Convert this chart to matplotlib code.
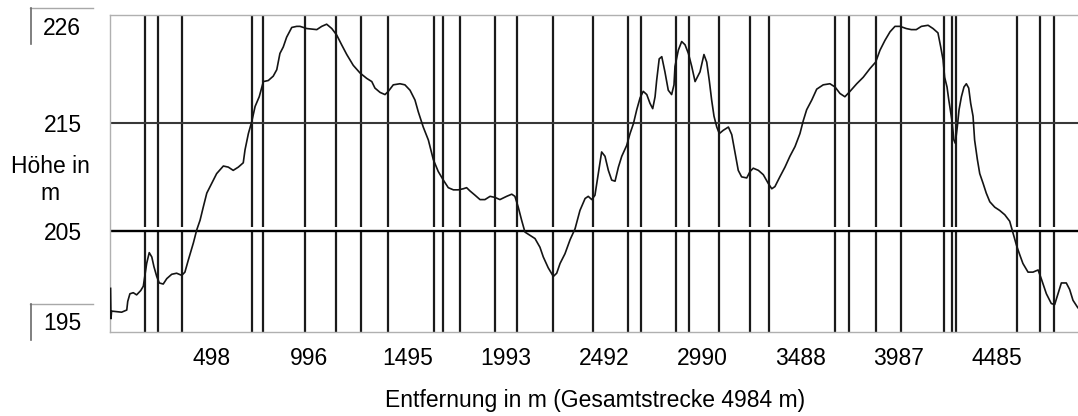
import matplotlib
matplotlib.use("Agg")
import matplotlib.pyplot as plt
import matplotlib.transforms as mtransforms
from matplotlib.lines import Line2D

plt.rcParams["font.family"] = ["Liberation Sans", "DejaVu Sans"]

# route profile: distance along track (m) and height (m)
TOTAL_M = 4984
ELEV_MIN, ELEV_MAX = 195, 226
GRID_Y = [205, 215]
XTICKS = [498, 996, 1495, 1993, 2492, 2990, 3488, 3987, 4485]

# waypoint markers (m)
MARKERS = [178, 242, 364, 719, 775, 989, 1147, 1272, 1412, 1645, 1691, 1776,
           1953, 2066, 2249, 2452, 2626, 2692, 2870, 2937, 3091, 3247, 3345,
           3678, 3750, 3884, 4014, 4231, 4271, 4292, 4603, 4719, 4787]

DIST = [3, 5, 8, 59, 85, 90, 101, 118, 135, 156, 169, 174, 186, 199, 212, 223,
        237, 250, 270, 288, 313, 338, 364, 380, 397, 423, 440, 457, 473, 491,
        516, 541, 575, 600, 625, 651, 676, 685, 702, 719, 736, 757, 778, 803,
        828, 846, 862, 879, 896, 922, 947, 964,
        998, 1049, 1074, 1099, 1125, 1150, 1175, 1201, 1234, 1268, 1302, 1328,
        1344, 1370, 1395, 1412, 1437, 1471, 1496, 1522, 1547, 1564, 1589, 1615,
        1640, 1665, 1691, 1716, 1742, 1767, 1792, 1809, 1826, 1852, 1877, 1902,
        1928, 1953, 1978,
        2012, 2038, 2054, 2071, 2088, 2105, 2131, 2156, 2181, 2198, 2223, 2249,
        2266, 2283, 2308, 2334, 2359, 2384, 2410, 2426, 2444, 2460, 2477, 2494,
        2511, 2528, 2545, 2562, 2579, 2596, 2621, 2638, 2655, 2672, 2689, 2705,
        2723, 2739, 2753, 2765, 2773, 2786, 2799, 2815, 2832, 2849, 2861, 2866,
        2883, 2900, 2917, 2934, 2951, 2968,
        2993, 3013, 3027, 3040, 3052, 3064, 3078, 3091, 3111, 3137, 3154, 3171,
        3187, 3204, 3230, 3247, 3263, 3289, 3314, 3339, 3357, 3373, 3398, 3424,
        3449, 3475, 3500, 3517, 3534, 3560, 3585, 3618, 3652, 3678, 3703, 3728,
        3754, 3788, 3821, 3855, 3884, 3906, 3931, 3957, 3982, 4008,
        4039, 4065, 4090, 4116, 4150, 4175, 4200, 4214, 4226, 4234, 4246, 4255,
        4265, 4271, 4281, 4288, 4298, 4307, 4319, 4332, 4344, 4356, 4366, 4378,
        4386, 4400, 4412, 4429, 4445, 4463, 4488, 4513, 4539, 4564, 4581, 4598,
        4615, 4631, 4657, 4682, 4708, 4724, 4750, 4775, 4792, 4809, 4826, 4851,
        4868, 4885, 4910, 4984]

ELEV = [199.7, 196.9, 197.6, 197.5, 197.7, 198.5, 199.2, 199.3, 199.1, 199.5,
        199.9, 200.5, 202.0, 203.0, 202.6, 201.7, 200.8, 200.2, 200.1, 200.6,
        201.0, 201.1, 200.9, 201.2, 202.3, 203.9, 205.1, 206.0, 207.2, 208.5,
        209.4, 210.3, 211.0, 210.9, 210.6, 210.9, 211.3, 212.5, 214.0, 215.1,
        216.5, 217.4, 218.8, 218.9, 219.3, 219.9, 221.4, 222.0, 222.9, 223.8,
        223.9, 223.9,
        223.7, 223.6, 223.9, 224.1, 223.7, 223.1, 222.2, 221.3, 220.3, 219.6,
        219.1, 218.8, 218.2, 217.8, 217.6, 217.9, 218.5, 218.6, 218.5, 218.0,
        217.1, 216.0, 214.6, 213.4, 211.6, 210.5, 209.7, 209.0, 208.8, 208.8,
        208.9, 209.0, 208.7, 208.3, 207.9, 207.9, 208.2, 208.1, 207.9,
        208.2, 208.4, 208.2, 207.2, 206.0, 204.9, 204.6, 204.3, 203.5, 202.6,
        201.6, 200.8, 201.1, 202.0, 202.9, 204.2, 205.2, 206.9, 208.0, 208.2,
        207.9, 208.3, 210.3, 212.3, 211.9, 210.6, 209.7, 209.6, 210.9, 211.9,
        212.9, 214.0, 214.9, 216.2, 217.3, 217.9, 217.6, 216.8, 216.3, 217.4,
        218.9, 220.9, 221.1, 219.7, 218.0, 217.6, 218.5, 220.2, 221.7, 222.5,
        222.2, 221.4, 220.2, 218.8,
        219.7, 221.3, 220.6, 218.9, 217.1, 215.6, 214.6, 214.0, 214.3, 214.6,
        213.9, 212.2, 210.6, 210.0, 209.9, 210.5, 210.8, 210.6, 210.2, 209.4,
        208.9, 209.1, 210.0, 210.9, 211.9, 212.8, 214.0, 215.2, 216.2, 217.1,
        218.1, 218.5, 218.6, 218.3, 217.7, 217.4, 217.9, 218.6, 219.2, 220.0,
        220.6, 221.7, 222.6, 223.4, 223.9, 223.9,
        223.7, 223.6, 223.6, 223.9, 224.0, 223.7, 223.3, 222.0, 220.8, 219.2,
        218.3, 217.1, 215.9, 215.2, 213.4, 213.1, 214.6, 216.2, 217.4, 218.3,
        218.6, 218.2, 216.8, 215.6, 213.4, 211.6, 210.3, 209.4, 208.5, 207.7,
        207.2, 206.9, 206.5, 205.9, 204.8, 203.7, 202.8, 202.0, 201.2, 201.2,
        201.4, 200.6, 199.2, 198.3, 198.2, 199.2, 200.2, 200.2, 199.6, 198.6,
        197.9, 197.0]

W, H = 1078, 416
FS = 16.5

fig = plt.figure(figsize=(W / 100, H / 100), dpi=100)
# the right end of the plot runs past the edge of the screenshot
ax = fig.add_axes([110 / W, (H - 332) / H, 982.5 / W, 317 / H])
ax.set_xlim(0, TOTAL_M)
ax.set_ylim(195.67, 224.95)

y0, y1 = ax.get_ylim()
# marker lines leave a hairline gap just above the 205 line, like the original
ax.vlines(MARKERS, y0, GRID_Y[0], color="#1a1a1a", lw=1.6, zorder=1)
ax.vlines(MARKERS, GRID_Y[0] + 0.36, y1, color="#1a1a1a", lw=1.6, zorder=1)
for y, c, lw in zip(GRID_Y, ["black", "#383838"], [1.7, 1.5]):
    ax.axhline(y, color=c, lw=lw, zorder=2)
ax.plot(DIST, ELEV, color="#141414", lw=1.2, zorder=3)

for s in ax.spines.values():
    s.set_color("#b0b0b0")
    s.set_linewidth(1.0)

ax.set_xticks(XTICKS, [str(v) for v in XTICKS])
ax.tick_params(axis="x", length=0, pad=11, labelsize=FS)
shift = mtransforms.ScaledTranslation(3 / 100, 0, fig.dpi_scale_trans)
for lab in ax.get_xticklabels():
    lab.set_transform(lab.get_transform() + shift)
ax.set_yticks(GRID_Y, [str(v) for v in GRID_Y])
ax.tick_params(axis="y", length=0, pad=20.5, labelsize=FS)

ax.set_xlabel(f"Entfernung in m (Gesamtstrecke {TOTAL_M} m)", fontsize=FS, va="center")
ax.xaxis.set_label_coords((595 - 110) / 982.5, (332 - 401) / 317)
ax.set_ylabel("Höhe in\nm", rotation=0, fontsize=FS, ha="center", va="center")
ax.yaxis.set_label_coords((50 - 110) / 982.5, (332 - 180) / 317)

# min / max boxes on the left
for val, yc, ytop in [(ELEV_MAX, 28.5, 7.5), (ELEV_MIN, 324, 304)]:
    fig.text(62 / W, 1 - yc / H, str(val), ha="center", va="center", fontsize=FS)
    fig.add_artist(Line2D([30 / W, 93 / W], [1 - ytop / H] * 2,
                          transform=fig.transFigure, color="#a8a8a8", lw=1.0))
    fig.add_artist(Line2D([30.5 / W] * 2, [1 - ytop / H, 1 - (ytop + 36) / H],
                          transform=fig.transFigure, color="#6a6a6a", lw=1.2))

fig.savefig("out.png", dpi=100)
